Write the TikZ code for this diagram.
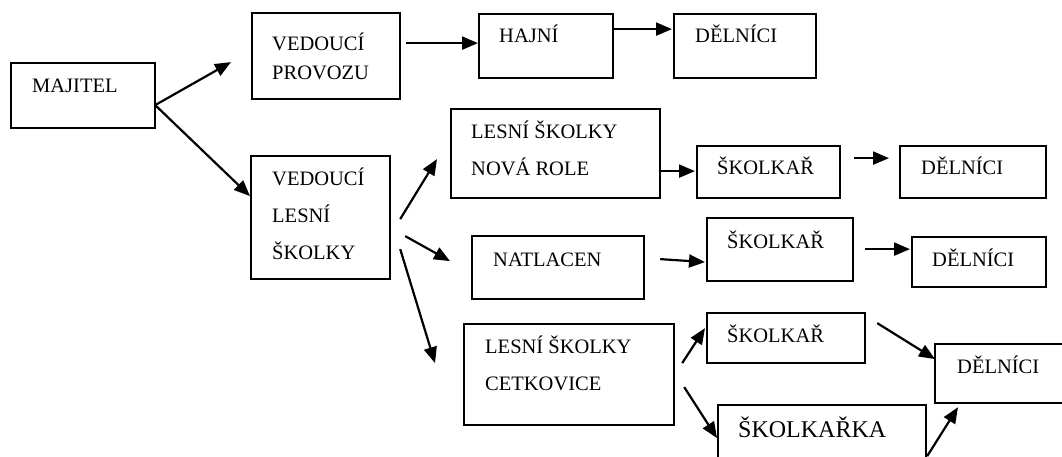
\documentclass[tikz,border=0pt]{standalone}
\usepackage{fontspec}
\setmainfont{Liberation Serif}
\usetikzlibrary{arrows.meta}
\begin{document}
\begin{tikzpicture}[x=1pt, y=-1pt, >={Triangle[length=16pt,width=13pt]}, box/.style={draw, line width=2.2pt, anchor=north west, inner sep=0pt}, txt/.style={anchor=base west, inner sep=0pt, align=left, font=\fontsize{20.5}{37}\selectfont}, msg/.style={->, line width=2.2pt}]
\clip (0,0) rectangle (1062,457);
% boxes
\node[box, minimum width=144pt, minimum height=65pt] (majitel) at (10,62) {};
\node[box, minimum width=148pt, minimum height=86pt] (provoz) at (251,12) {};
\node[box, minimum width=134pt, minimum height=64pt] (hajni) at (478,13) {};
\node[box, minimum width=142pt, minimum height=64pt] (delnici1) at (673,13) {};
\node[box, minimum width=139pt, minimum height=123pt] (skolky) at (250,155) {};
\node[box, minimum width=209pt, minimum height=89pt] (novarole) at (450,108) {};
\node[box, minimum width=143pt, minimum height=52pt] (skolkar1) at (696,145) {};
\node[box, minimum width=146pt, minimum height=52pt] (delnici2) at (899,145) {};
\node[box, minimum width=172pt, minimum height=63pt] (natlacen) at (471,235) {};
\node[box, minimum width=146pt, minimum height=63pt] (skolkar2) at (706,217) {};
\node[box, minimum width=134pt, minimum height=50pt] (delnici3) at (911,236) {};
\node[box, minimum width=210pt, minimum height=101pt] (cetkovice) at (463,323) {};
\node[box, minimum width=158pt, minimum height=50pt] (skolkar3) at (706,312) {};
\node[box, minimum width=208pt, minimum height=70pt] (skolkarka) at (717,404) {};
\node[box, minimum width=136pt, minimum height=59pt] (delnici4) at (934,343) {};
% texts (base = last line)
\node[txt] (majitel-t) at (32,93) {MAJITEL};
\node[txt, font=\fontsize{20.5}{29}\selectfont] (provoz-t) at (272,80) {VEDOUCÍ\\PROVOZU};
\node[txt] (hajni-t) at (499,43) {HAJNÍ};
\node[txt] (delnici1-t) at (695,43) {DĚLNÍCI};
\node[txt] (skolky-t) at (272,259) {VEDOUCÍ\\LESNÍ\\ŠKOLKY};
\node[txt] (novarole-t) at (471,176) {LESNÍ ŠKOLKY\\NOVÁ ROLE};
\node[txt] (skolkar1-t) at (717,175) {ŠKOLKAŘ};
\node[txt] (delnici2-t) at (921,175) {DĚLNÍCI};
\node[txt] (natlacen-t) at (493,266) {NATLACEN};
\node[txt] (skolkar2-t) at (727,248) {ŠKOLKAŘ};
\node[txt] (delnici3-t) at (932,266) {DĚLNÍCI};
\node[txt] (cetkovice-t) at (485,390) {LESNÍ ŠKOLKY\\CETKOVICE};
\node[txt] (skolkar3-t) at (727,342) {ŠKOLKAŘ};
\node[txt, font=\fontsize{24}{29}\selectfont] (skolkarka-t) at (738,437) {ŠKOLKAŘKA};
\node[txt] (delnici4-t) at (957,373) {DĚLNÍCI};
% connectors
\draw[msg] ([shift={(-1,9.5)}]majitel.east) -- ([shift={(-20,6)}]provoz.west);
\draw[msg] ([shift={(-1,9.5)}]majitel.east) -- ([shift={(0,-21.5)}]skolky.west);
\draw[msg] ([shift={(5,-13)}]provoz.east) -- ([shift={(0,-3)}]hajni.west);
\draw[msg] ([shift={(0,-17)}]hajni.east) -- ([shift={(-1,-17)}]delnici1.west);
\draw[msg] ([shift={(9,1.5)}]skolky.east) -- ([shift={(-13,5.5)}]novarole.west);
\draw[msg] ([shift={(14,18.5)}]skolky.east) -- ([shift={(-21,-6.5)}]natlacen.west);
\draw[msg] ([shift={(9,31.5)}]skolky.east) -- ([shift={(-28,-11.5)}]cetkovice.west);
\draw[msg] ([shift={(0,17.5)}]novarole.east) -- ([shift={(-1,-1)}]skolkar1.west);
\draw[msg] ([shift={(13,-14)}]skolkar1.east) -- ([shift={(-10,-14)}]delnici2.west);
\draw[msg] ([shift={(15,-8.5)}]natlacen.east) -- ([shift={(-1,12.5)}]skolkar2.west);
\draw[msg] ([shift={(11,-0.5)}]skolkar2.east) -- ([shift={(-1,-13)}]delnici3.west);
\draw[msg] ([shift={(7,-11.5)}]cetkovice.east) -- ([shift={(-1,-10)}]skolkar3.west);
\draw[msg] ([shift={(9,12.5)}]cetkovice.east) -- ([shift={(0,-2)}]skolkarka.west);
\draw[msg] ([shift={(11,-15)}]skolkar3.east) -- ([shift={(1,-14.5)}]delnici4.west);
\draw[msg] ([shift={(0,16)}]skolkarka.east) -- ([shift={(24,3)}]delnici4.south west);
\end{tikzpicture}
\end{document}
